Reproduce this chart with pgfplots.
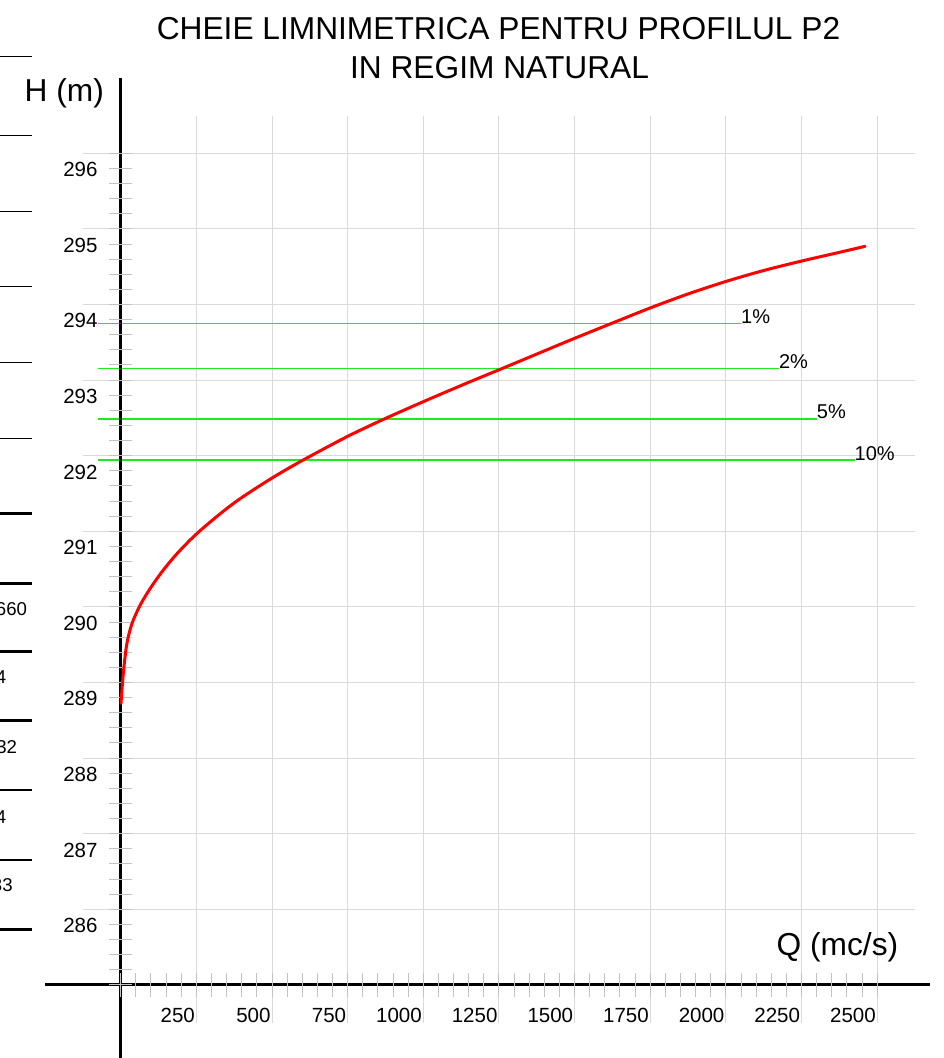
\documentclass[border=0pt]{standalone}
\usepackage{fontspec}
\setmainfont{Liberation Sans}
\usepackage{pgfplots}
\pgfplotsset{compat=1.18}
\definecolor{gridc}{RGB}{218,218,218}
\definecolor{tickc}{RGB}{195,195,195}
\definecolor{grn}{RGB}{30,235,30}
\newcommand\tkf{\fontsize{20.5}{24}\selectfont}
\newcommand\pcf{\fontsize{20}{24}\selectfont}
\newcommand\ttlf{\fontsize{31.7}{36}\selectfont}
\newcommand\smf{\fontsize{18.6}{22}\selectfont}
\begin{document}
\begin{tikzpicture}
\begin{axis}[
  at={(82.875pt,-1022.7pt)}, anchor=south west,
  x=0.3026pt, y=75.6pt,
  xmin=-125, xmax=2625, ymin=284.5, ymax=296.5,
  axis line style={draw=none},
  tick style={draw=none},
  xtick={250,500,...,2500}, ytick={286,287,...,296},
  ticklabel style={text opacity=0, font=\tiny},
  grid=major, major grid style={line width=1pt, draw=gridc},
  clip=false,
]
\addplot[draw=none, forget plot] coordinates {(0,285) (1,285)};
% frequency levels
\addplot[draw=grn, line width=1.4pt] coordinates {(-75,293.75) (2050,293.75)};
\addplot[draw=grn, line width=1.6pt] coordinates {(-75,293.155) (2175,293.155)};
\addplot[draw=grn, line width=1.3pt] coordinates {(-75,292.486) (2300,292.486)};
\addplot[draw=grn, line width=1.6pt] coordinates {(-75,291.94) (2425,291.94)};
% axes
\draw[black, line width=3pt] (axis cs:0,283.9) -- (axis cs:0,297.0);
\draw[black, line width=3pt] (axis cs:-250,285) -- (axis cs:2675,285);
% ticks
\pgfplotsinvokeforeach{0,...,50}{\draw[tickc, line width=1pt] (axis cs:#1*50,285) ++(0pt,-11.7pt) -- ++(0pt,23.4pt);}
\pgfplotsinvokeforeach{0,...,55}{\draw[tickc, line width=1pt] (axis cs:0,285+#1*0.2) ++(-11.7pt,0pt) -- ++(23.4pt,0pt);}
% tick labels
\pgfplotsinvokeforeach{250,500,...,2500}{\node[anchor=base east, inner sep=0pt, font=\tkf, xshift=-1.3pt, yshift=-38pt] at (axis cs:#1,285) {#1};}
\pgfplotsinvokeforeach{286,287,...,296}{\node[anchor=base east, inner sep=0pt, font=\tkf, xshift=-23pt, yshift=-23.4pt] at (axis cs:0,#1) {#1};}
% percent labels
\node[anchor=base west, inner sep=0pt, font=\pcf] at (axis cs:2050,293.75) {1\%};
\node[anchor=base west, inner sep=0pt, font=\pcf] at (axis cs:2175,293.155) {2\%};
\node[anchor=base west, inner sep=0pt, font=\pcf] at (axis cs:2300,292.486) {5\%};
\node[anchor=base west, inner sep=0pt, font=\pcf] at (axis cs:2425,291.94) {10\%};
% rating curve
\addplot[red, line width=3pt, smooth, line cap=round] coordinates {
(1,288.725) (8.6,289.12) (19.8,289.50) (36.4,289.77) (63.8,290.02) (96.8,290.24)
(135.5,290.46) (185,290.70) (248.8,290.96) (328,291.23) (394,291.43) (494,291.69)
(592.5,291.92) (746.9,292.25) (867.8,292.48) (1000,292.715) (1143.4,292.96)
(1264.4,293.16) (1420,293.42) (1500,293.553) (1625,293.755) (1750,293.955)
(1875,294.14) (2000,294.305) (2125,294.45) (2250,294.575) (2375,294.69) (2460,294.77)};
\end{axis}
% titles
\node[anchor=base, inner sep=0pt, font=\ttlf] at (498.5pt,-39pt) {CHEIE LIMNIMETRICA PENTRU PROFILUL P2};
\node[anchor=base, inner sep=0pt, font=\ttlf] at (499.5pt,-78pt) {IN REGIM NATURAL};
\node[anchor=base west, inner sep=0pt, font=\ttlf] at (24.5pt,-101.7pt) {H (m)};
\node[anchor=base west, inner sep=0pt, font=\ttlf] at (776.5pt,-955pt) {Q (mc/s)};
% cropped table fragment at left
\foreach \yy in {56.7,135.5,211.7,286.7,362,438} \draw[line width=1pt] (0pt,-\yy pt) -- (32.3pt,-\yy pt);
\foreach \yy in {513.3,583.3,651.7,720.5,790,860,929.3} \draw[line width=2.7pt] (0pt,-\yy pt) -- (32.3pt,-\yy pt);
\node[anchor=base east, inner sep=0pt, font=\smf] at (27.2pt,-615pt) {660};
\node[anchor=base east, inner sep=0pt, font=\smf] at (6.5pt,-683pt) {4};
\node[anchor=base east, inner sep=0pt, font=\smf] at (17.2pt,-753pt) {32};
\node[anchor=base east, inner sep=0pt, font=\smf] at (6.5pt,-823pt) {4};
\node[anchor=base east, inner sep=0pt, font=\smf] at (12.8pt,-891.7pt) {33};
\pgfresetboundingbox
\useasboundingbox (0pt,0pt) rectangle (944pt,-1058pt);
\end{tikzpicture}
\end{document}
